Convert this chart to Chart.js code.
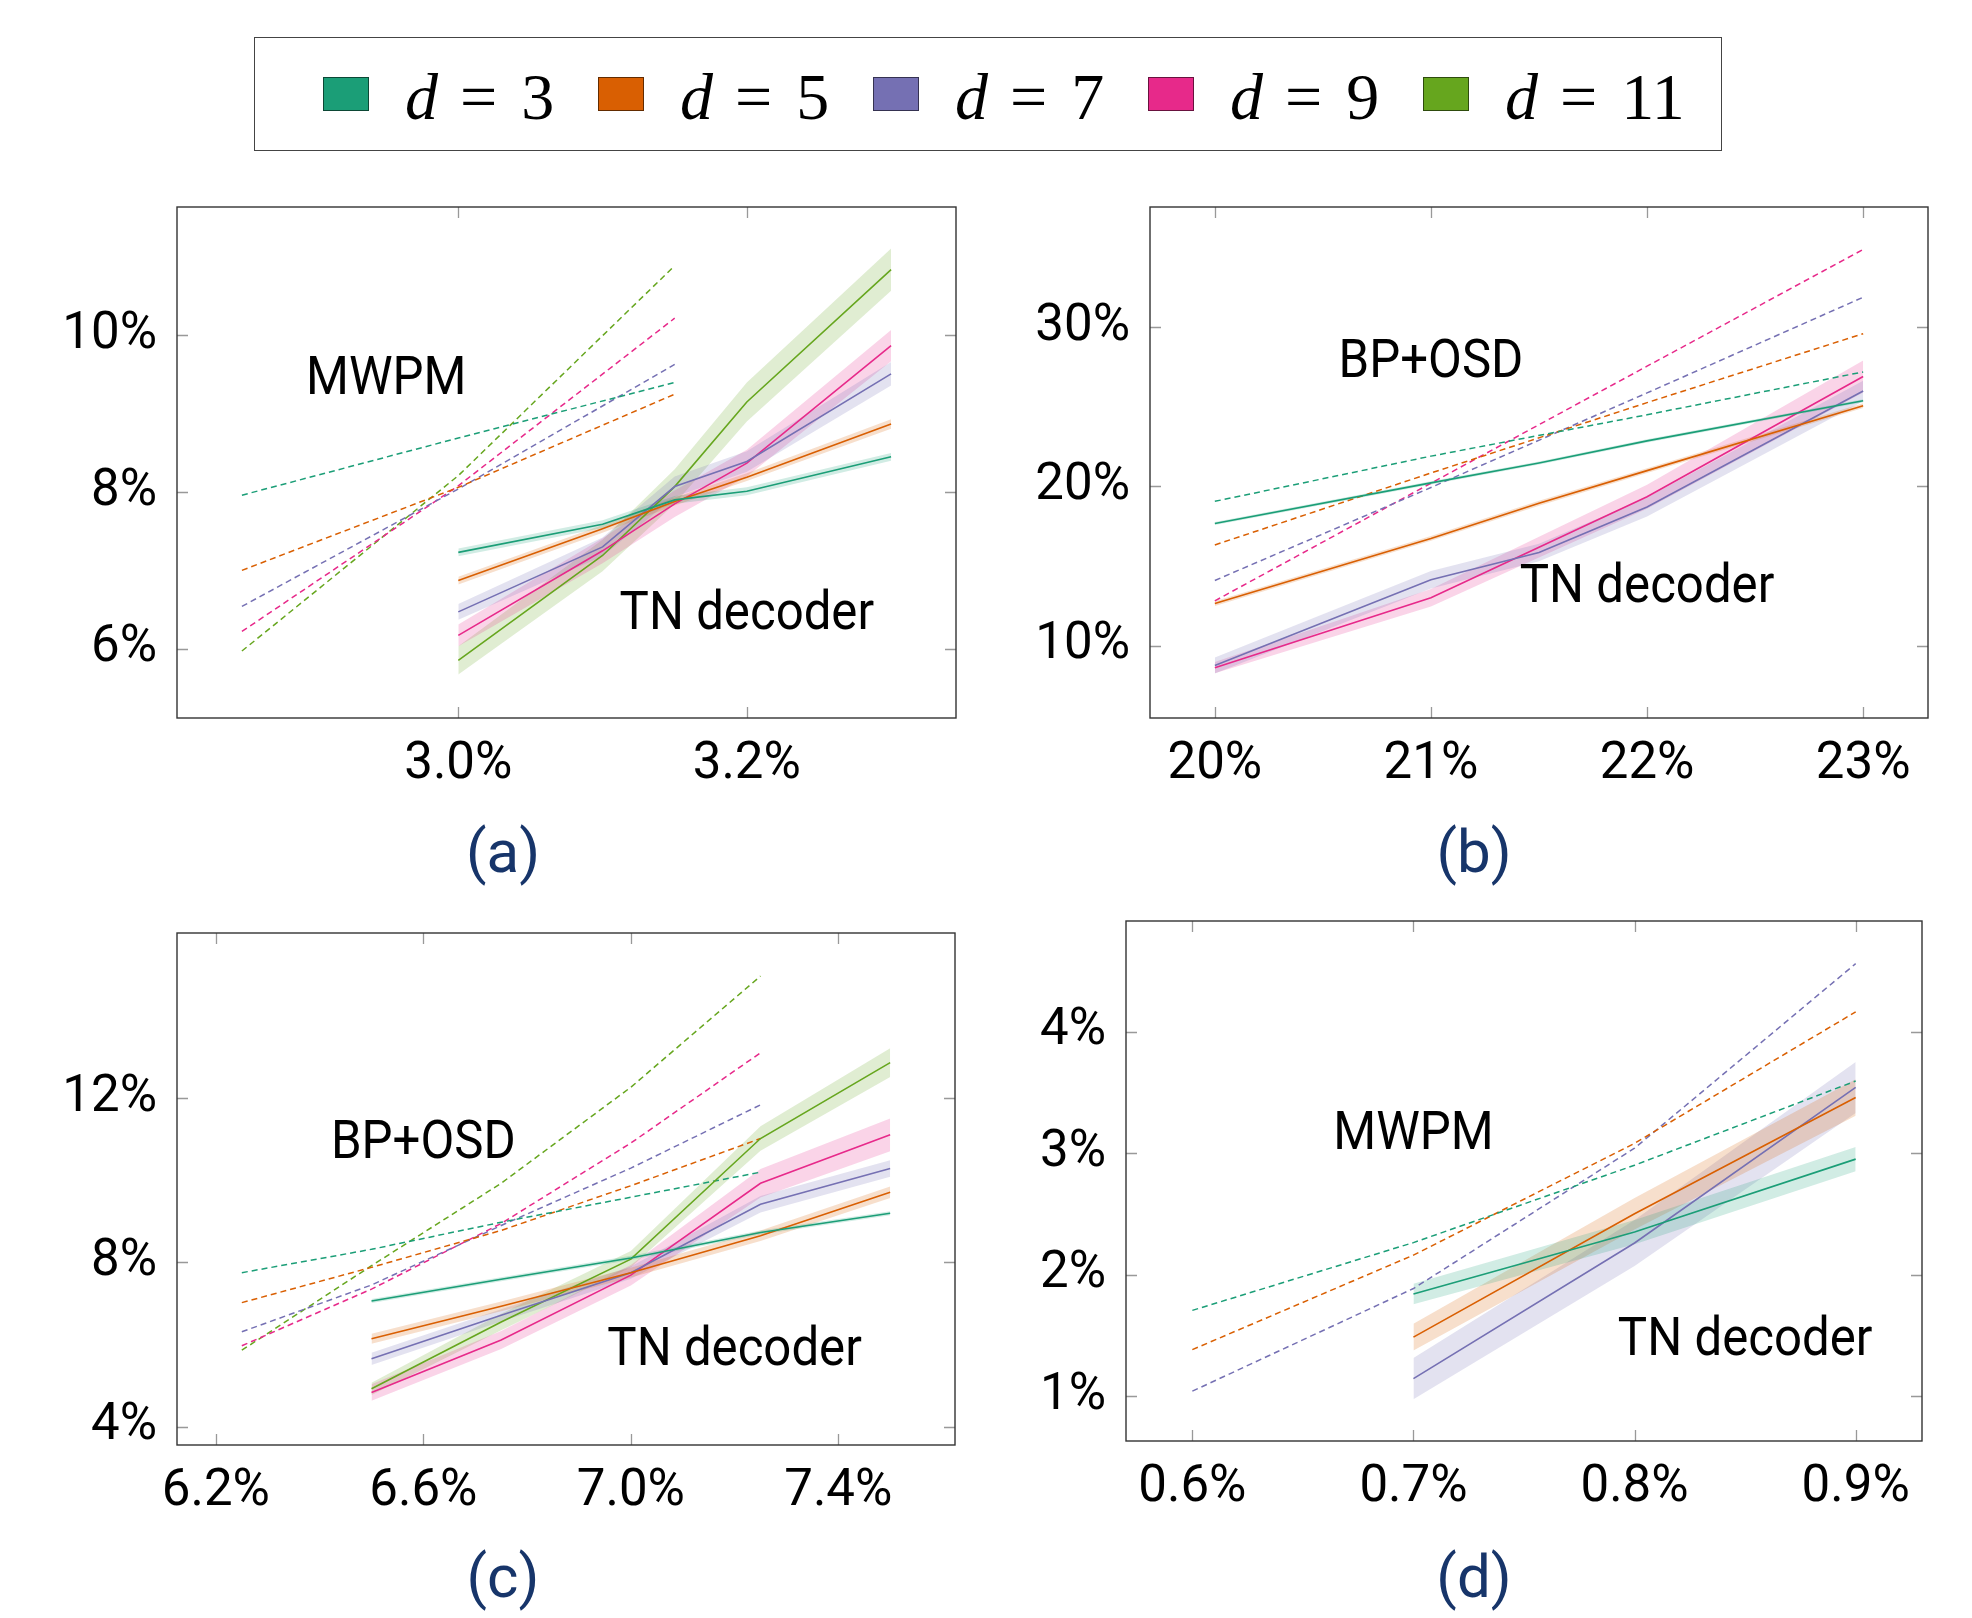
<!DOCTYPE html>
<html>
<head>
<meta charset="utf-8">
<title>TN decoder vs MWPM / BP+OSD</title>
<script src="https://cdn.jsdelivr.net/npm/chart.js@4/dist/chart.umd.min.js"></script>
<style>
  html, body { margin: 0; padding: 0; background: #fff; }
  body { width: 1972px; height: 1618px; position: relative; overflow: hidden; font-family: Roboto, 'Noto Sans', sans-serif; }
  .legend-box { position: absolute; left: 254px; top: 37px; width: 1468px; height: 114px; border: 1.5px solid #444; box-sizing: border-box; }
  .swatch { position: absolute; width: 46px; height: 34px; box-sizing: border-box; border: 1.2px solid rgba(0, 0, 0, 0.55); }
  .legend-label { position: absolute; font-family: 'Liberation Serif', 'DejaVu Serif', serif; font-size: 66px; line-height: 66px; white-space: nowrap; color: #000; }
  .legend-label .eq { margin: 0 24px 0 22px; }
  .panel { position: absolute; }
  .caption { position: absolute; width: 200px; text-align: center; font-size: 60px; line-height: 60px; color: #17356a; }
</style>
</head>
<body>
<div class="legend-box"></div>
<div id="legend"></div>

<canvas id="chartA" class="panel"></canvas>
<canvas id="chartB" class="panel"></canvas>
<canvas id="chartC" class="panel"></canvas>
<canvas id="chartD" class="panel"></canvas>

<div class="caption" style="left:403px; top:822px;">(a)</div>
<div class="caption" style="left:1374px; top:822px;">(b)</div>
<div class="caption" style="left:403px; top:1547px;">(c)</div>
<div class="caption" style="left:1374px; top:1547px;">(d)</div>

<script>
// 颜色 / 图例
const COLORS = ['#1b9e77', '#d95f02', '#7570b3', '#e7298a', '#66a61e'];
const DISTANCES = ['3', '5', '7', '9', '11'];

// (a) MWPM / TN decoder
const aXTicks = [3.0, 3.2];
const aYTicks = [6, 8, 10];
const aXRange = [2.805, 3.345];
const aYRange = [5.115, 11.64];
const aDashX = [2.85, 3.0, 3.15];
const aDash = [
  [7.96, 8.69, 9.40],
  [7.00, 8.06, 9.25],
  [6.54, 8.04, 9.63],
  [6.22, 8.08, 10.22],
  [5.97, 8.21, 10.89]
];
const aTnX = [3.0, 3.1, 3.15, 3.2, 3.3];
const aTn = [
  [7.23, 7.59, 7.90, 8.01, 8.45],
  [6.87, 7.53, 7.88, 8.19, 8.87],
  [6.47, 7.30, 8.07, 8.39, 9.51],
  [6.17, 7.25, 7.85, 8.37, 9.87],
  [5.85, 7.19, 8.07, 9.15, 10.84]
];
const aTnErr = [
  [0.05, 0.05, 0.05, 0.05, 0.05],
  [0.05, 0.05, 0.05, 0.05, 0.06],
  [0.10, 0.12, 0.13, 0.13, 0.15],
  [0.14, 0.16, 0.17, 0.17, 0.20],
  [0.18, 0.20, 0.22, 0.25, 0.27]
];
const aNotes = ['MWPM', 'TN decoder'];
const aNoteX = [2.95, 3.2];
const aNoteY = [9.49, 6.49];

// (b) BP+OSD / TN decoder
const bXTicks = [20, 21, 22, 23];
const bYTicks = [10, 20, 30];
const bXRange = [19.7, 23.3];
const bYRange = [5.45, 37.55];
const bDashX = [20, 21, 22, 23];
const bDash = [
  [19.06, 21.90, 24.50, 27.19],
  [16.32, 20.84, 25.26, 29.59],
  [14.09, 19.93, 25.87, 31.88],
  [12.81, 20.20, 27.55, 34.88]
];
const bTnX = [20, 21, 21.5, 22, 23];
const bTn = [
  [17.67, 20.22, 21.47, 22.86, 25.38],
  [12.64, 16.73, 18.94, 20.99, 25.07],
  [8.75, 14.13, 15.84, 18.70, 25.99],
  [8.61, 13.00, 16.18, 19.35, 26.90]
];
const bTnErr = [
  [0.10, 0.10, 0.10, 0.10, 0.10],
  [0.15, 0.15, 0.15, 0.15, 0.15],
  [0.50, 0.55, 0.55, 0.60, 0.65],
  [0.35, 0.55, 0.65, 0.75, 1.00]
];
const bNotes = ['BP+OSD', 'TN decoder'];
const bNoteX = [21.0, 22.0];
const bNoteY = [28.06, 13.95];

// (c) BP+OSD / TN decoder
const cXTicks = [6.2, 6.6, 7.0, 7.4];
const cYTicks = [4, 8, 12];
const cXRange = [6.125, 7.625];
const cYRange = [3.55, 16.03];
const cDashX = [6.25, 6.5, 6.75, 7.0, 7.25];
const cDash = [
  [7.75, 8.32, 8.98, 9.59, 10.20],
  [7.02, 7.88, 8.78, 9.87, 11.02],
  [6.31, 7.45, 8.90, 10.30, 11.84],
  [5.97, 7.35, 8.95, 10.91, 13.11],
  [5.86, 7.92, 9.93, 12.27, 14.98]
];
const cTnX = [6.5, 6.75, 7.0, 7.25, 7.5];
const cTn = [
  [7.06, 7.59, 8.11, 8.73, 9.20],
  [6.14, 6.93, 7.75, 8.65, 9.71],
  [5.65, 6.71, 7.75, 9.42, 10.29],
  [4.83, 6.11, 7.69, 9.93, 11.11],
  [4.92, 6.55, 8.08, 11.02, 12.87]
];
const cTnErr = [
  [0.05, 0.05, 0.05, 0.05, 0.05],
  [0.12, 0.12, 0.12, 0.13, 0.14],
  [0.15, 0.15, 0.15, 0.20, 0.20],
  [0.20, 0.22, 0.25, 0.35, 0.40],
  [0.15, 0.20, 0.20, 0.30, 0.35]
];
const cNotes = ['BP+OSD', 'TN decoder'];
const cNoteX = [6.6, 7.2];
const cNoteY = [11.01, 5.97];

// (d) MWPM / TN decoder
const dXTicks = [0.6, 0.7, 0.8, 0.9];
const dYTicks = [1, 2, 3, 4];
const dXRange = [0.57, 0.93];
const dYRange = [0.63, 4.91];
const dDashX = [0.6, 0.7, 0.8, 0.9];
const dDash = [
  [1.705, 2.263, 2.90, 3.593],
  [1.382, 2.16, 3.08, 4.162],
  [1.04, 1.885, 3.04, 4.559]
];
const dTnX = [0.7, 0.8, 0.9];
const dTn = [
  [1.84, 2.35, 2.95],
  [1.485, 2.50, 3.457],
  [1.143, 2.26, 3.54]
];
const dTnErr = [
  [0.085, 0.10, 0.10],
  [0.11, 0.13, 0.15],
  [0.17, 0.19, 0.21]
];
const dNotes = ['MWPM', 'TN decoder'];
const dNoteX = [0.70, 0.85];
const dNoteY = [3.19, 1.495];

// 画布布局（绘图区 左/上/右/下）
const Y_W = 170, PAD_T = 20, PAD_R = 20, X_H = 80;
const TICK_FONT = { family: 'Roboto', size: 51 };
const NOTE_FONT = '54px Roboto';

function hexA(hex, a) {
  const n = parseInt(hex.slice(1), 16);
  return `rgba(${(n >> 16) & 255}, ${(n >> 8) & 255}, ${n & 255}, ${a})`;
}

// 图例
function renderLegend() {
  const box = document.getElementById('legend');
  box.innerHTML = DISTANCES.map((d, i) => `
    <div class="swatch" style="left:${323 + i * 275}px; top:77px; background:${COLORS[i]};"></div>
    <div class="legend-label" style="left:${405 + i * 275}px; top:64px;"><i>d</i><span class="eq">=</span>${d}</div>
  `).join('');
}

// 边框和内向刻度
const framePlugin = {
  id: 'frame',
  afterDatasetsDraw(chart) {
    const { ctx, chartArea: a, scales } = chart;
    ctx.save();
    ctx.strokeStyle = '#999';
    ctx.lineWidth = 1.3;
    ctx.beginPath();
    scales.x.ticks.forEach(t => {
      const px = Math.round(scales.x.getPixelForValue(t.value)) + 0.5;
      ctx.moveTo(px, a.bottom); ctx.lineTo(px, a.bottom - 11);
      ctx.moveTo(px, a.top); ctx.lineTo(px, a.top + 11);
    });
    scales.y.ticks.forEach(t => {
      const py = Math.round(scales.y.getPixelForValue(t.value)) + 0.5;
      ctx.moveTo(a.left, py); ctx.lineTo(a.left + 11, py);
      ctx.moveTo(a.right, py); ctx.lineTo(a.right - 11, py);
    });
    ctx.stroke();
    ctx.strokeStyle = '#333';
    ctx.lineWidth = 1.4;
    ctx.strokeRect(a.left, a.top, a.right - a.left, a.bottom - a.top);
    ctx.restore();
  }
};

// 图中文字标注（字体略窄一些）
const notePlugin = {
  id: 'notes',
  afterDatasetsDraw(chart, args, opts) {
    const { ctx, scales } = chart;
    ctx.save();
    ctx.font = NOTE_FONT;
    ctx.fillStyle = '#000';
    ctx.textAlign = 'center';
    ctx.textBaseline = 'alphabetic';
    opts.texts.forEach((t, i) => {
      const px = scales.x.getPixelForValue(opts.xs[i]);
      const py = scales.y.getPixelForValue(opts.ys[i]);
      ctx.save();
      ctx.translate(px, py + 19);
      ctx.scale(0.91, 1);
      ctx.fillText(t, 0, 0);
      ctx.restore();
    });
    ctx.restore();
  }
};

function buildDatasets(dashX, dash, tnX, tn, tnErr) {
  const ds = [];
  // 误差带
  tn.forEach((ys, i) => {
    ds.push({
      data: tnX.map((x, k) => ({ x, y: ys[k] - tnErr[i][k] })),
      borderColor: 'transparent', borderWidth: 0, pointRadius: 0, fill: false, order: 20
    });
    ds.push({
      data: tnX.map((x, k) => ({ x, y: ys[k] + tnErr[i][k] })),
      borderColor: 'transparent', borderWidth: 0, pointRadius: 0,
      fill: '-1', backgroundColor: hexA(COLORS[i], 0.2), order: 20
    });
  });
  // 基准解码器（虚线）
  dash.forEach((ys, i) => {
    ds.push({
      data: dashX.map((x, k) => ({ x, y: ys[k] })),
      borderColor: COLORS[i], borderWidth: 1.5, borderDash: [6, 4],
      pointRadius: 0, fill: false, order: 10
    });
  });
  // TN decoder（实线）
  tn.forEach((ys, i) => {
    ds.push({
      data: tnX.map((x, k) => ({ x, y: ys[k] })),
      borderColor: COLORS[i], borderWidth: 1.6,
      pointRadius: 0, fill: false, order: 0
    });
  });
  return ds;
}

function makePanel(id, box, p) {
  const [L, T, R, B] = box;
  const canvas = document.getElementById(id);
  const w = R - L + Y_W + PAD_R;
  const h = B - T + PAD_T + X_H;
  canvas.width = w;
  canvas.height = h;
  canvas.style.left = (L - Y_W) + 'px';
  canvas.style.top = (T - PAD_T) + 'px';
  canvas.style.width = w + 'px';
  canvas.style.height = h + 'px';

  return new Chart(canvas, {
    type: 'line',
    data: { datasets: buildDatasets(p.dashX, p.dash, p.tnX, p.tn, p.tnErr) },
    options: {
      responsive: false,
      animation: false,
      layout: { padding: { top: PAD_T, right: PAD_R, left: 0, bottom: 0 } },
      plugins: {
        legend: { display: false },
        tooltip: { enabled: false },
        notes: { texts: p.notes, xs: p.noteX, ys: p.noteY }
      },
      scales: {
        x: {
          type: 'linear', min: p.xRange[0], max: p.xRange[1],
          grid: { display: false, drawTicks: false }, border: { display: false },
          afterBuildTicks: s => { s.ticks = p.xTicks.map(v => ({ value: v })); },
          afterFit: s => { s.height = X_H; s.paddingLeft = 0; s.paddingRight = 0; },
          ticks: { font: TICK_FONT, color: '#000', padding: 17, maxRotation: 0, autoSkip: false, callback: p.xFmt }
        },
        y: {
          type: 'linear', min: p.yRange[0], max: p.yRange[1],
          grid: { display: false, drawTicks: false }, border: { display: false },
          afterBuildTicks: s => { s.ticks = p.yTicks.map(v => ({ value: v })); },
          afterFit: s => { s.width = Y_W; s.paddingTop = 0; s.paddingBottom = 0; },
          ticks: { font: TICK_FONT, color: '#000', padding: 20, autoSkip: false, callback: v => v + '%' }
        }
      }
    },
    plugins: [framePlugin, notePlugin]
  });
}

function init() {
  renderLegend();
  const oneDecimal = v => v.toFixed(1) + '%';
  makePanel('chartA', [177, 207, 956, 718], {
    xTicks: aXTicks, yTicks: aYTicks, xRange: aXRange, yRange: aYRange,
    dashX: aDashX, dash: aDash, tnX: aTnX, tn: aTn, tnErr: aTnErr,
    notes: aNotes, noteX: aNoteX, noteY: aNoteY, xFmt: oneDecimal
  });
  makePanel('chartB', [1150, 207, 1928, 718], {
    xTicks: bXTicks, yTicks: bYTicks, xRange: bXRange, yRange: bYRange,
    dashX: bDashX, dash: bDash, tnX: bTnX, tn: bTn, tnErr: bTnErr,
    notes: bNotes, noteX: bNoteX, noteY: bNoteY, xFmt: v => v + '%'
  });
  makePanel('chartC', [177, 933, 955, 1445], {
    xTicks: cXTicks, yTicks: cYTicks, xRange: cXRange, yRange: cYRange,
    dashX: cDashX, dash: cDash, tnX: cTnX, tn: cTn, tnErr: cTnErr,
    notes: cNotes, noteX: cNoteX, noteY: cNoteY, xFmt: oneDecimal
  });
  makePanel('chartD', [1126, 921, 1922, 1441], {
    xTicks: dXTicks, yTicks: dYTicks, xRange: dXRange, yRange: dYRange,
    dashX: dDashX, dash: dDash, tnX: dTnX, tn: dTn, tnErr: dTnErr,
    notes: dNotes, noteX: dNoteX, noteY: dNoteY, xFmt: oneDecimal
  });
}

document.addEventListener('DOMContentLoaded', function() {
  Promise.all([
    document.fonts.load('51px Roboto'),
    document.fonts.load('66px "Liberation Serif"')
  ]).then(init, init);
});
</script>
</body>
</html>
